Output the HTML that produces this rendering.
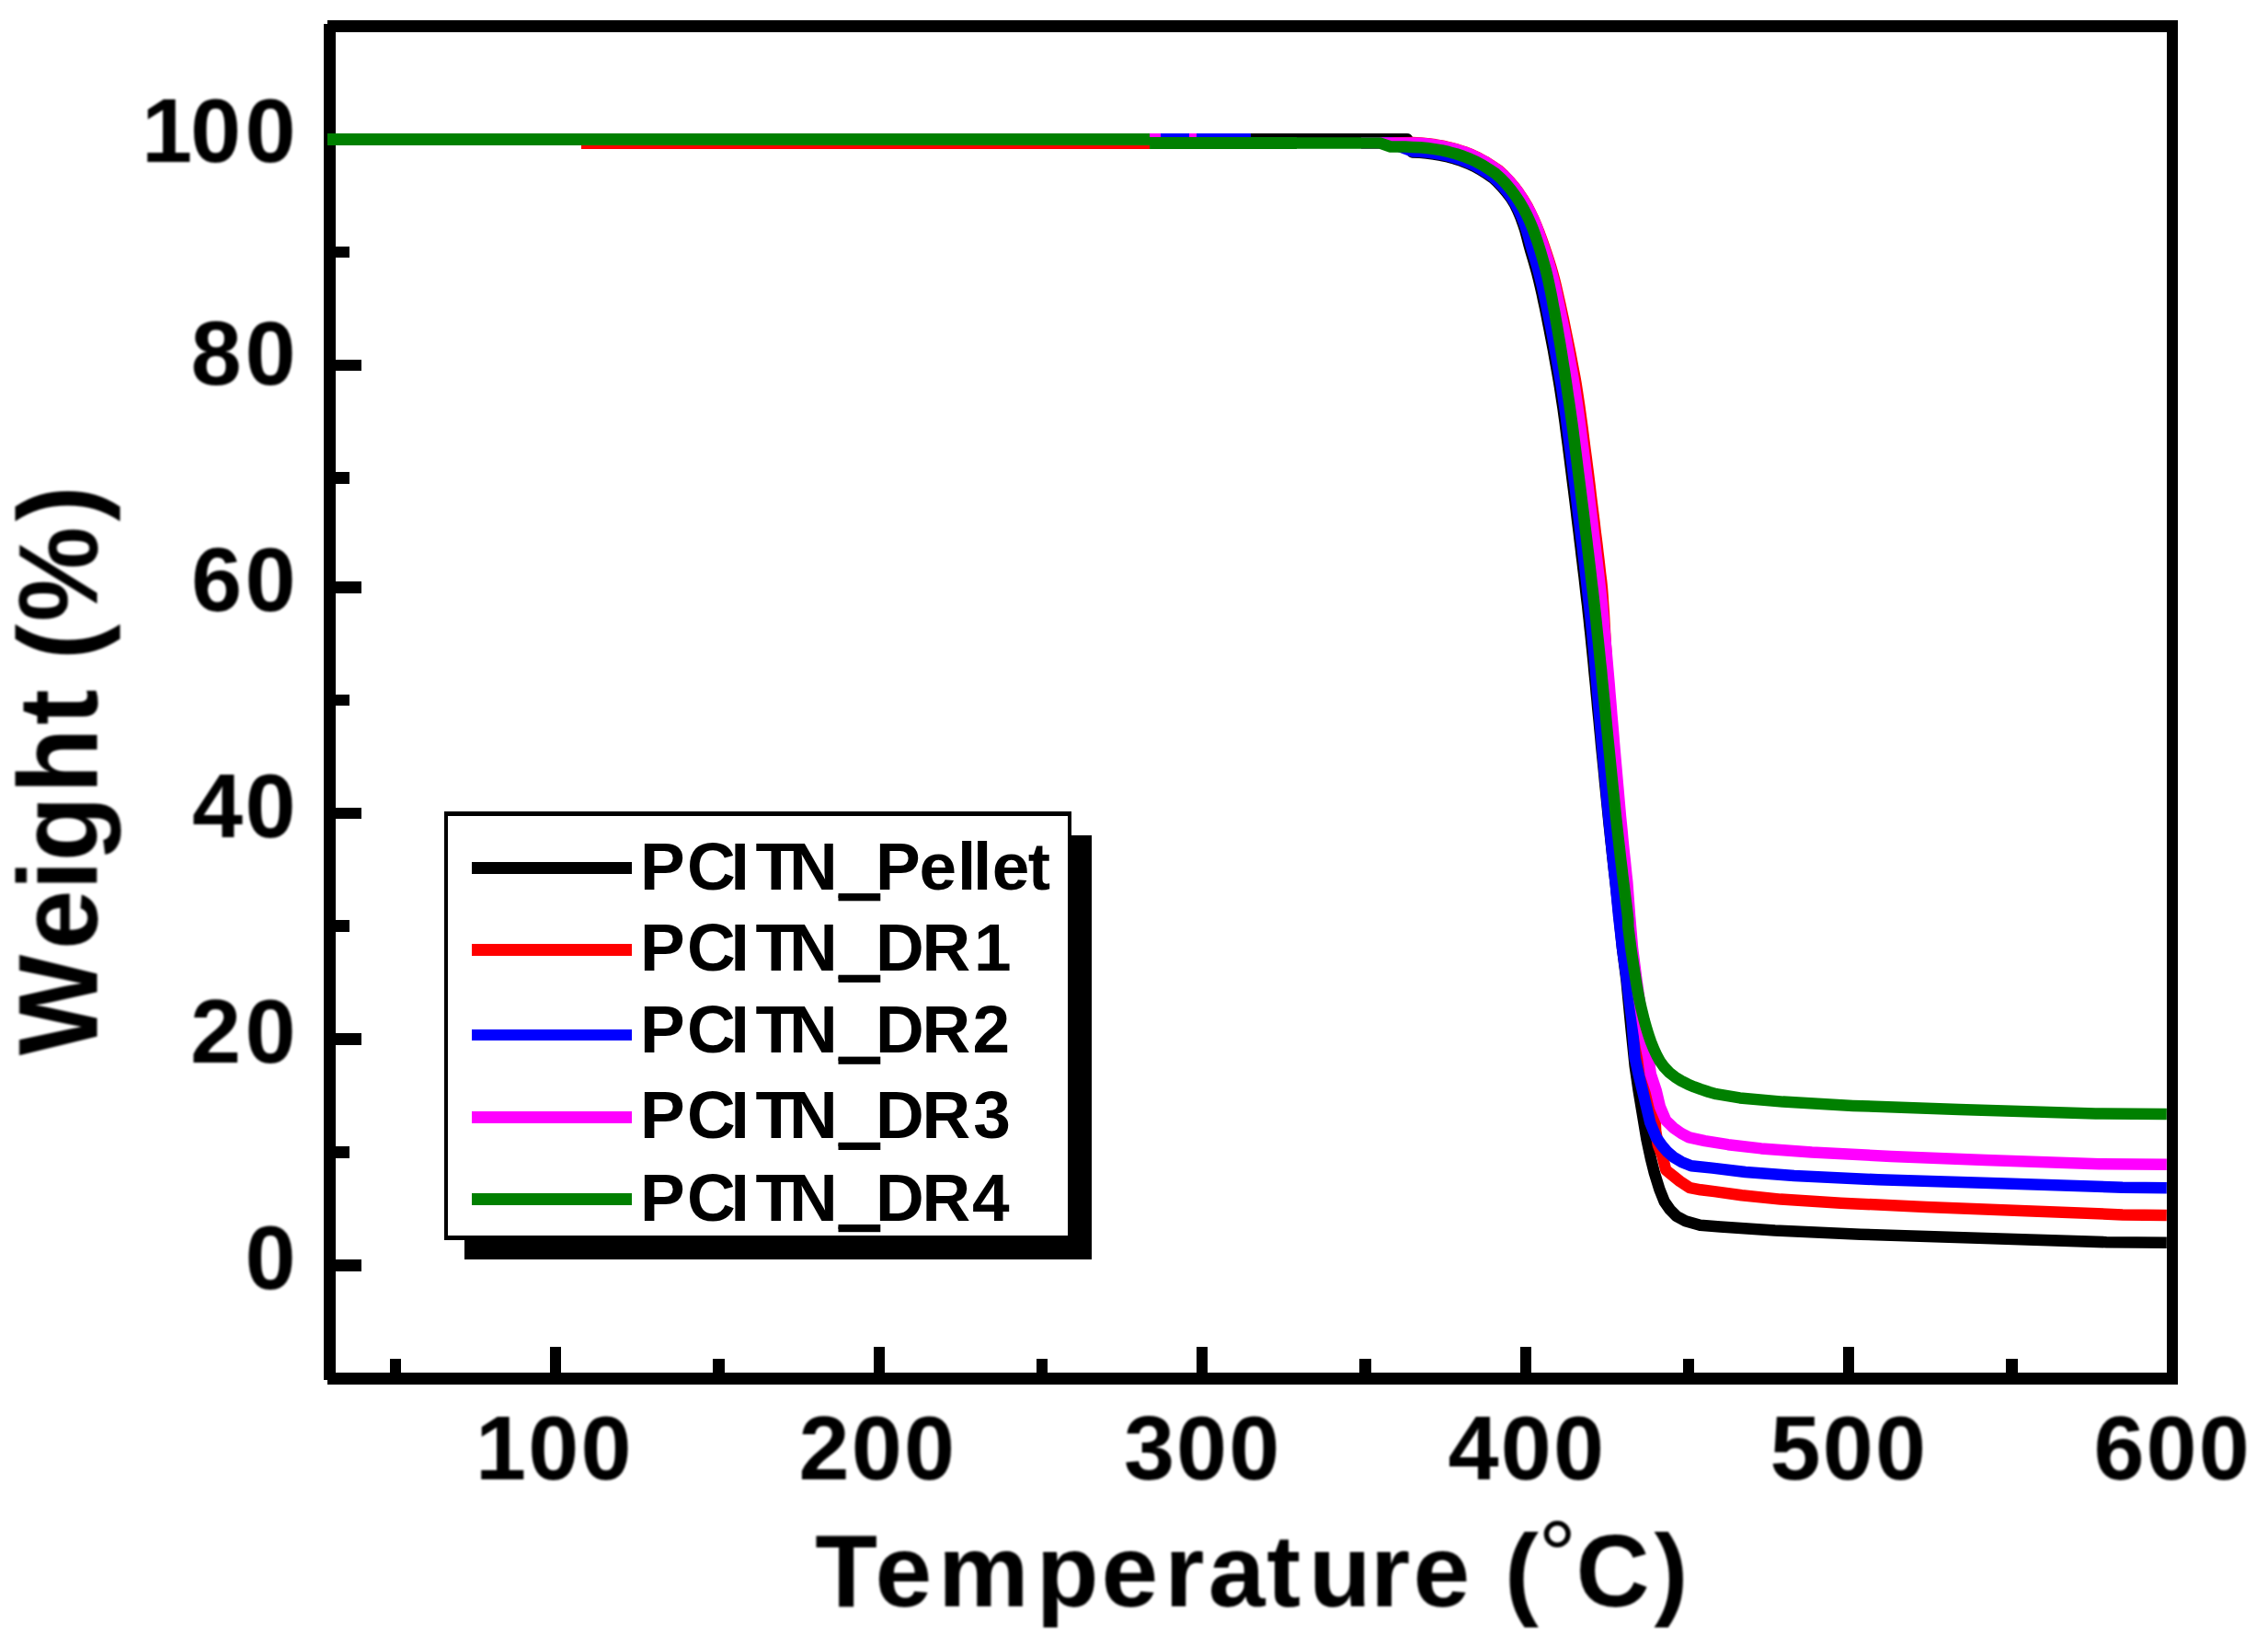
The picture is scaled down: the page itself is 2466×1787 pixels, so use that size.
<!DOCTYPE html>
<html lang="en"><head><meta charset="utf-8"><title>TGA curves</title>
<style>html,body{margin:0;padding:0;background:#fff}svg{display:block}</style></head><body>
<svg width="2466" height="1787" viewBox="0 0 2466 1787">
<defs><filter id="soft" x="-5%" y="-5%" width="110%" height="110%"><feGaussianBlur stdDeviation="1.2"/></filter></defs>
<rect x="0" y="0" width="2466" height="1787" fill="#fff"/>
<g id="frame" shape-rendering="crispEdges">
<rect x="356.0" y="22.0" width="2012.1" height="12.5" fill="#000"/>
<rect x="352.0" y="26.2" width="12.7" height="1474.1" fill="#000"/>
<rect x="356.0" y="1492.0" width="2012.1" height="12.5" fill="#000"/>
<rect x="2355.6" y="22.0" width="12.5" height="1482.5" fill="#000"/>
<rect x="364.0" y="144.5" width="28.5" height="12.6" fill="#000"/>
<rect x="364.0" y="390.7" width="28.5" height="12.6" fill="#000"/>
<rect x="364.0" y="631.9" width="28.5" height="12.6" fill="#000"/>
<rect x="364.0" y="877.7" width="28.5" height="12.6" fill="#000"/>
<rect x="364.0" y="1123.4" width="28.5" height="12.6" fill="#000"/>
<rect x="364.0" y="1369.2" width="28.5" height="12.6" fill="#000"/>
<rect x="364.0" y="267.7" width="16.0" height="12.6" fill="#000"/>
<rect x="364.0" y="513.1" width="16.0" height="12.6" fill="#000"/>
<rect x="364.0" y="754.5" width="16.0" height="12.6" fill="#000"/>
<rect x="364.0" y="1000.2" width="16.0" height="12.6" fill="#000"/>
<rect x="364.0" y="1246.3" width="16.0" height="12.6" fill="#000"/>
<rect x="597.9" y="1463.5" width="12.4" height="29.5" fill="#000"/>
<rect x="949.5" y="1463.5" width="12.4" height="29.5" fill="#000"/>
<rect x="1301.0" y="1463.5" width="12.4" height="29.5" fill="#000"/>
<rect x="1652.5" y="1463.5" width="12.4" height="29.5" fill="#000"/>
<rect x="2004.0" y="1463.5" width="12.4" height="29.5" fill="#000"/>
<rect x="2355.6" y="1463.5" width="12.4" height="29.5" fill="#000"/>
<rect x="423.7" y="1477.0" width="12.4" height="16.0" fill="#000"/>
<rect x="775.2" y="1477.0" width="12.4" height="16.0" fill="#000"/>
<rect x="1126.7" y="1477.0" width="12.4" height="16.0" fill="#000"/>
<rect x="1478.2" y="1477.0" width="12.4" height="16.0" fill="#000"/>
<rect x="1829.8" y="1477.0" width="12.4" height="16.0" fill="#000"/>
<rect x="2181.3" y="1477.0" width="12.4" height="16.0" fill="#000"/>
</g>
<polyline points="1350.0,151.2 1530.0,151.2 1535.7,165.4 1543.6,165.8 1551.3,166.5 1559.0,167.5 1566.6,168.8 1574.2,170.5 1581.6,172.5 1588.9,174.9 1596.0,177.6 1602.9,180.8 1609.6,184.4 1616.0,188.6 1622.9,193.2 1628.3,198.1 1633.5,203.6 1638.4,209.4 1643.0,215.5 1647.0,222.1 1650.4,229.0 1653.4,236.1 1656.0,243.3 1658.4,250.6 1660.4,258.0 1662.3,265.6 1664.4,273.1 1666.7,280.7 1668.9,288.2 1671.0,295.7 1672.9,303.3 1674.7,310.8 1676.5,318.5 1678.1,326.2 1679.8,334.0 1681.4,341.8 1682.9,349.6 1684.5,357.5 1686.0,365.3 1687.5,373.1 1689.0,380.9 1690.4,388.8 1691.8,396.6 1693.2,404.5 1694.6,412.4 1695.9,420.2 1697.1,428.1 1698.3,436.0 1699.5,443.9 1700.6,451.8 1701.7,459.7 1702.7,467.6 1703.7,475.5 1704.8,483.5 1705.8,491.4 1706.8,499.3 1707.8,507.2 1708.8,515.2 1709.8,523.1 1710.8,531.0 1711.8,539.0 1712.8,546.9 1713.8,554.9 1714.7,562.8 1715.7,570.7 1716.7,578.7 1717.6,586.6 1718.6,594.5 1719.5,602.5 1720.5,610.4 1721.4,618.4 1722.4,626.3 1723.3,634.2 1724.2,642.2 1725.1,650.1 1726.1,658.0 1726.9,666.0 1727.8,673.9 1728.6,681.9 1729.5,689.8 1730.3,697.8 1731.1,705.7 1731.9,713.7 1732.7,721.6 1733.4,729.6 1734.2,737.5 1735.0,745.5 1735.7,753.4 1736.5,761.4 1737.2,769.4 1738.0,777.3 1738.8,785.3 1739.5,793.3 1740.3,801.2 1741.0,809.2 1741.8,817.2 1742.6,825.1 1743.4,833.1 1744.2,841.1 1744.9,849.0 1745.7,857.0 1746.5,865.0 1747.3,872.9 1748.1,880.9 1748.9,888.9 1749.7,896.9 1750.6,904.8 1751.4,912.8 1752.3,920.8 1753.1,928.7 1754.0,936.7 1754.9,944.7 1755.8,952.6 1756.7,960.6 1760.5,995.3 1764.0,1030.5 1768.5,1065.8 1773.5,1118.0 1777.7,1158.8 1781.6,1185.3 1786.0,1211.7 1790.4,1238.2 1794.9,1259.3 1798.9,1275.2 1804.4,1292.9 1809.7,1306.1 1815.8,1314.9 1822.9,1322.0 1832.6,1327.2 1848.5,1331.7 1870.5,1333.4 1929.9,1337.5 2023.1,1341.7 2150.5,1345.8 2290.4,1350.2 2355.8,1350.7" fill="none" stroke="#000000" stroke-width="12.5" stroke-linejoin="round"/>
<g shape-rendering="crispEdges">
<rect x="631.6" y="149.2" width="618.4" height="12.5" fill="#ff0000"/>
<rect x="1262.4" y="145.0" width="97.6" height="12.5" fill="#0000ff"/>
<rect x="1250.0" y="145.0" width="12.4" height="12.5" fill="#ff00ff"/>
<rect x="1292.9" y="145.0" width="7.9" height="12.5" fill="#ff00ff"/>
<rect x="356.0" y="145.0" width="894.0" height="12.5" fill="#008000"/>
<rect x="1250.0" y="149.2" width="160.0" height="12.5" fill="#008000"/>
</g>
<polyline points="1480.0,155.4 1512.0,155.4 1536.2,155.1 1544.3,155.5 1552.4,156.2 1560.6,157.3 1568.6,158.7 1576.6,160.5 1584.5,162.6 1592.4,165.2 1600.1,168.1 1607.6,171.6 1614.8,175.6 1621.7,180.0 1629.2,185.0 1635.5,190.7 1641.2,196.7 1646.5,203.0 1651.4,209.6 1656.0,216.5 1660.2,223.5 1664.0,230.8 1667.5,238.2 1670.7,245.7 1673.7,253.3 1676.5,260.9 1679.2,268.6 1681.8,276.2 1684.3,283.9 1686.7,291.6 1688.9,299.5 1691.0,307.3 1692.8,315.2 1694.6,323.1 1696.4,330.9 1698.1,338.8 1699.8,346.6 1701.4,354.5 1703.0,362.4 1704.6,370.2 1706.2,378.1 1707.8,386.0 1709.3,393.9 1710.8,401.8 1712.3,409.7 1713.7,417.6 1714.9,425.5 1716.1,433.4 1717.3,441.4 1718.4,449.3 1719.5,457.3 1720.6,465.3 1721.6,473.2 1722.6,481.2 1723.6,489.1 1724.7,497.0 1725.7,505.0 1726.7,512.9 1727.7,520.9 1728.7,528.8 1729.6,536.8 1730.6,544.7 1731.6,552.7 1732.6,560.6 1733.6,568.5 1734.5,576.5 1735.5,584.4 1736.5,592.4 1737.4,600.3 1738.4,608.3 1739.3,616.2 1740.2,624.2 1741.2,632.1 1742.0,640.1 1742.6,648.1 1743.1,656.1 1743.7,664.1 1744.2,672.2 1744.6,680.2 1745.1,688.2 1745.5,696.2 1746.0,704.2 1746.5,712.2 1746.9,720.2 1747.3,728.2 1747.8,736.2 1748.2,744.2 1748.6,752.2 1749.0,760.2 1749.4,768.2 1749.8,776.2 1750.2,784.2 1750.6,792.2 1751.0,800.2 1751.4,808.2 1751.9,816.2 1752.4,824.1 1753.1,832.1 1753.8,840.1 1754.5,848.1 1755.2,856.0 1755.9,864.0 1756.6,872.0 1757.3,879.9 1758.1,887.9 1758.8,895.9 1759.6,903.8 1760.4,911.8 1761.2,919.7 1762.0,927.7 1762.8,935.7 1763.6,943.6 1764.5,951.6 1765.3,959.5 1768.0,995.3 1771.5,1030.5 1776.0,1065.8 1782.0,1118.0 1787.0,1160.0 1793.0,1190.0 1797.3,1206.0 1799.6,1217.0 1800.2,1229.4 1802.8,1244.4 1807.2,1255.8 1811.3,1271.7 1817.6,1276.9 1826.5,1284.0 1837.5,1291.2 1849.2,1293.3 1864.1,1295.1 1893.7,1299.2 1936.0,1303.6 2001.6,1307.7 2093.9,1311.9 2202.9,1316.2 2307.9,1320.4 2355.8,1320.9" fill="none" stroke="#ff0000" stroke-width="12.5" stroke-linejoin="round"/>
<polyline points="1480.0,155.4 1512.0,155.4 1535.7,164.4 1543.6,164.8 1551.4,165.5 1559.1,166.5 1566.8,167.9 1574.4,169.5 1581.9,171.5 1589.2,173.9 1596.4,176.7 1603.4,179.9 1610.1,183.6 1616.6,187.7 1623.5,192.4 1629.0,197.4 1634.3,202.9 1639.2,208.8 1643.8,215.0 1647.9,221.6 1651.4,228.4 1654.6,235.5 1657.4,242.7 1659.9,250.0 1662.1,257.4 1664.1,265.0 1666.3,272.5 1668.6,280.1 1670.8,287.7 1672.9,295.2 1674.8,302.8 1676.7,310.4 1678.4,318.1 1680.1,325.9 1681.7,333.7 1683.3,341.5 1684.9,349.3 1686.5,357.1 1688.0,364.9 1689.5,372.8 1690.9,380.6 1692.4,388.5 1693.8,396.3 1695.2,404.2 1696.5,412.1 1697.9,419.9 1699.1,427.8 1700.3,435.7 1701.4,443.6 1702.6,451.5 1703.6,459.4 1704.7,467.3 1705.7,475.3 1706.7,483.2 1707.8,491.1 1708.8,499.1 1709.8,507.0 1710.8,514.9 1711.8,522.9 1712.8,530.8 1713.8,538.7 1714.8,546.7 1715.7,554.6 1716.7,562.5 1717.7,570.5 1718.6,578.4 1719.6,586.4 1720.6,594.3 1721.5,602.2 1722.5,610.2 1723.4,618.1 1724.4,626.1 1725.3,634.0 1726.2,641.9 1727.1,649.9 1728.0,657.8 1728.9,665.8 1729.8,673.7 1730.6,681.6 1731.4,689.6 1732.1,697.6 1732.9,705.5 1733.6,713.5 1734.3,721.5 1735.0,729.4 1735.7,737.4 1736.4,745.3 1737.1,753.3 1737.8,761.3 1738.5,769.2 1739.2,777.2 1739.9,785.2 1740.6,793.2 1741.3,801.1 1742.0,809.1 1742.7,817.1 1743.4,825.1 1744.1,833.0 1744.8,841.0 1745.6,849.0 1746.3,856.9 1747.0,864.9 1747.7,872.9 1748.5,880.9 1749.2,888.8 1750.0,896.8 1750.8,904.8 1751.6,912.8 1752.4,920.7 1753.2,928.7 1754.1,936.7 1754.9,944.7 1755.8,952.6 1756.7,960.6 1760.0,995.3 1764.0,1030.5 1769.0,1065.8 1774.5,1110.0 1777.7,1150.0 1781.6,1167.6 1785.9,1185.3 1790.1,1202.9 1794.3,1220.5 1800.8,1236.4 1807.0,1245.2 1813.2,1252.3 1819.4,1257.6 1828.2,1262.9 1838.8,1267.3 1861.8,1269.6 1897.8,1274.0 1950.8,1278.0 2041.8,1282.3 2180.6,1286.5 2307.9,1290.7 2355.8,1291.2" fill="none" stroke="#0000ff" stroke-width="12.5" stroke-linejoin="round"/>
<polyline points="1480.0,155.4 1516.0,155.4 1536.2,155.4 1544.3,155.8 1552.4,156.5 1560.5,157.6 1568.6,159.0 1576.5,160.8 1584.5,162.9 1592.3,165.4 1599.9,168.4 1607.4,171.9 1614.7,175.8 1621.5,180.2 1629.0,185.3 1635.3,190.9 1641.0,196.9 1646.3,203.2 1651.2,209.8 1655.7,216.6 1659.9,223.7 1663.8,230.9 1667.2,238.3 1670.4,245.8 1673.2,253.5 1675.9,261.1 1678.5,268.8 1681.0,276.4 1683.5,284.1 1685.8,291.9 1687.9,299.7 1689.9,307.6 1691.7,315.4 1693.4,323.3 1695.1,331.2 1696.7,339.0 1698.3,346.9 1699.9,354.8 1701.5,362.6 1703.0,370.5 1704.5,378.4 1706.0,386.3 1707.4,394.2 1708.9,402.1 1710.3,410.0 1711.6,417.9 1712.8,425.8 1714.0,433.7 1715.2,441.7 1716.3,449.6 1717.4,457.6 1718.5,465.5 1719.5,473.5 1720.5,481.4 1721.6,489.4 1722.6,497.3 1723.6,505.3 1724.6,513.2 1725.6,521.1 1726.6,529.1 1727.6,537.0 1728.5,545.0 1729.5,552.9 1730.5,560.9 1731.5,568.8 1732.4,576.7 1733.4,584.7 1734.4,592.6 1735.3,600.6 1736.3,608.5 1737.2,616.5 1738.2,624.4 1739.1,632.4 1740.0,640.3 1740.9,648.3 1741.8,656.3 1742.5,664.3 1743.3,672.2 1744.0,680.2 1744.8,688.2 1745.5,696.2 1746.2,704.1 1746.9,712.1 1747.6,720.1 1748.3,728.1 1749.0,736.1 1749.7,744.0 1750.3,752.0 1751.0,760.0 1751.7,768.0 1752.3,775.9 1753.0,783.9 1753.7,791.9 1754.4,799.8 1755.0,807.8 1755.7,815.8 1756.4,823.7 1757.1,831.7 1757.8,839.7 1758.5,847.7 1759.2,855.6 1759.9,863.6 1760.6,871.6 1761.3,879.5 1762.0,887.5 1762.8,895.4 1763.6,903.4 1764.3,911.3 1765.1,919.3 1765.9,927.2 1766.8,935.2 1767.6,943.1 1768.4,951.1 1769.3,959.0 1772.0,995.3 1775.0,1030.5 1779.5,1065.8 1784.5,1101.0 1789.7,1136.4 1792.5,1150.0 1794.8,1167.6 1800.7,1185.3 1804.9,1202.9 1811.3,1217.9 1819.4,1225.8 1828.2,1232.0 1836.6,1236.4 1853.8,1240.1 1879.0,1244.2 1914.9,1248.4 1970.0,1252.6 2056.0,1256.9 2158.8,1261.1 2282.7,1265.3 2355.8,1265.8" fill="none" stroke="#ff00ff" stroke-width="12.5" stroke-linejoin="round"/>
<polyline points="1400.0,155.4 1500.0,155.4 1512.0,159.5 1520.0,159.5 1528.0,159.6 1536.0,159.9 1544.0,160.3 1551.9,161.0 1559.8,162.1 1567.7,163.4 1575.5,165.2 1583.2,167.2 1590.8,169.7 1598.2,172.6 1605.4,175.9 1612.4,179.7 1619.1,184.0 1626.2,188.8 1632.1,194.2 1637.6,199.9 1642.7,206.0 1647.5,212.4 1651.9,219.0 1656.0,225.9 1659.7,232.9 1663.1,240.1 1666.2,247.5 1669.0,255.0 1671.6,262.5 1674.0,270.2 1676.3,277.8 1678.5,285.5 1680.7,293.2 1682.6,301.0 1684.3,308.8 1685.9,316.6 1687.5,324.5 1688.9,332.3 1690.4,340.2 1691.8,348.1 1693.2,355.9 1694.5,363.8 1695.9,371.7 1697.2,379.6 1698.5,387.5 1699.7,395.4 1701.0,403.3 1702.2,411.2 1703.4,419.1 1704.5,427.0 1705.7,434.9 1706.9,442.9 1708.0,450.8 1709.1,458.7 1710.2,466.6 1711.2,474.6 1712.2,482.5 1713.2,490.4 1714.2,498.4 1715.2,506.3 1716.2,514.2 1717.2,522.2 1718.2,530.1 1719.2,538.1 1720.2,546.0 1721.2,553.9 1722.2,561.9 1723.1,569.8 1724.1,577.8 1725.1,585.7 1726.0,593.6 1727.0,601.6 1727.9,609.5 1728.9,617.5 1729.8,625.4 1730.7,633.4 1731.7,641.3 1732.6,649.3 1733.5,657.2 1734.4,665.2 1735.3,673.1 1736.1,681.1 1736.9,689.0 1737.8,697.0 1738.6,704.9 1739.4,712.9 1740.2,720.8 1741.1,728.8 1741.8,736.8 1742.6,744.7 1743.4,752.7 1744.2,760.7 1745.0,768.6 1745.8,776.6 1746.5,784.5 1747.3,792.5 1748.1,800.5 1748.9,808.4 1749.7,816.4 1750.5,824.3 1751.3,832.3 1752.1,840.3 1752.9,848.2 1753.7,856.2 1754.6,864.1 1755.4,872.1 1756.2,880.1 1757.0,888.0 1757.9,896.0 1758.8,903.9 1759.7,911.9 1760.6,919.8 1761.5,927.8 1762.4,935.7 1763.4,943.6 1764.3,951.6 1765.3,959.5 1766.3,967.5 1767.3,975.4 1768.3,983.3 1769.3,991.3 1770.2,999.2 1770.3,1007.2 1771.3,1015.1 1772.3,1023.0 1773.3,1031.0 1774.5,1038.9 1775.7,1046.8 1776.9,1054.7 1778.2,1062.6 1779.5,1070.5 1780.9,1078.4 1782.4,1086.2 1784.1,1094.0 1786.0,1101.8 1787.9,1109.5 1790.1,1117.3 1792.4,1124.9 1795.0,1132.4 1798.0,1139.8 1801.3,1147.0 1805.1,1153.9 1809.7,1160.2 1815.1,1165.8 1821.3,1170.7 1828.0,1174.9 1835.0,1178.4 1842.1,1181.4 1848.9,1183.9 1855.2,1186.0 1858.2,1187.0 1866.1,1189.2 1891.7,1193.4 1938.5,1197.6 2014.6,1201.9 2129.9,1206.1 2278.4,1210.4 2355.8,1210.9" fill="none" stroke="#008000" stroke-width="12.5" stroke-linejoin="round"/>
<g id="legend" shape-rendering="crispEdges">
<rect x="504.6" y="907.6" width="681.9" height="461.1" fill="#000"/>
<rect x="482.8" y="881.8" width="682.6" height="465.8" fill="#000"/>
<rect x="487.4" y="886.6" width="673.6" height="456.7" fill="#fff"/>
<rect x="512.9" y="937.1" width="174.0" height="12.6" fill="#000000"/>
<rect x="512.9" y="1025.9" width="174.0" height="12.6" fill="#ff0000"/>
<rect x="512.9" y="1118.7" width="174.0" height="12.6" fill="#0000ff"/>
<rect x="512.9" y="1208.4" width="174.0" height="12.6" fill="#ff00ff"/>
<rect x="512.9" y="1297.2" width="174.0" height="12.6" fill="#008000"/>
</g>
<text x="696.1 747.1 794.6 821.4 858.1 912.2 952.1 999.4 1040.9 1057.9 1078.8 1117.8" y="966.7" font-size="73" font-family="Liberation Sans, Arial, Helvetica, sans-serif" font-weight="bold" fill="#000">PCITN_Pellet</text>
<rect x="911.5" y="971.1" width="45.8" height="8.2" fill="#000"/>
<text x="696.1 747.1 794.6 821.4 858.1 912.2 952.1 1002.6 1059.0" y="1055.3" font-size="73" font-family="Liberation Sans, Arial, Helvetica, sans-serif" font-weight="bold" fill="#000">PCITN_DR1</text>
<rect x="911.5" y="1059.7" width="45.8" height="8.2" fill="#000"/>
<text x="696.1 747.1 794.6 821.4 858.1 912.2 952.1 1002.6 1057.5" y="1144.2" font-size="73" font-family="Liberation Sans, Arial, Helvetica, sans-serif" font-weight="bold" fill="#000">PCITN_DR2</text>
<rect x="911.5" y="1148.6" width="45.8" height="8.2" fill="#000"/>
<text x="696.1 747.1 794.6 821.4 858.1 912.2 952.1 1002.6 1058.3" y="1237.4" font-size="73" font-family="Liberation Sans, Arial, Helvetica, sans-serif" font-weight="bold" fill="#000">PCITN_DR3</text>
<rect x="911.5" y="1241.8" width="45.8" height="8.2" fill="#000"/>
<text x="696.1 747.1 794.6 821.4 858.1 912.2 952.1 1002.6 1056.9" y="1326.6" font-size="73" font-family="Liberation Sans, Arial, Helvetica, sans-serif" font-weight="bold" fill="#000">PCITN_DR4</text>
<rect x="911.5" y="1331.0" width="45.8" height="8.2" fill="#000"/>
<g id="labels" filter="url(#soft)">
<text x="154.0 206.9 266.6" y="176.2" font-size="99" font-family="Liberation Sans, Arial, Helvetica, sans-serif" font-weight="bold" fill="#000">100</text>
<text x="207.5 266.6" y="417.8" font-size="99" font-family="Liberation Sans, Arial, Helvetica, sans-serif" font-weight="bold" fill="#000">80</text>
<text x="208.0 266.6" y="663.8" font-size="99" font-family="Liberation Sans, Arial, Helvetica, sans-serif" font-weight="bold" fill="#000">60</text>
<text x="208.9 266.6" y="909.6" font-size="99" font-family="Liberation Sans, Arial, Helvetica, sans-serif" font-weight="bold" fill="#000">40</text>
<text x="207.0 266.6" y="1155.4" font-size="99" font-family="Liberation Sans, Arial, Helvetica, sans-serif" font-weight="bold" fill="#000">20</text>
<text x="266.6" y="1401.0" font-size="99" font-family="Liberation Sans, Arial, Helvetica, sans-serif" font-weight="bold" fill="#000">0</text>
<text x="517.0 574.2 631.4" y="1608.2" font-size="99" font-family="Liberation Sans, Arial, Helvetica, sans-serif" font-weight="bold" fill="#000">100</text>
<text x="868.5 925.7 982.9" y="1608.2" font-size="99" font-family="Liberation Sans, Arial, Helvetica, sans-serif" font-weight="bold" fill="#000">200</text>
<text x="1221.9 1279.1 1336.3" y="1608.2" font-size="99" font-family="Liberation Sans, Arial, Helvetica, sans-serif" font-weight="bold" fill="#000">300</text>
<text x="1574.5 1631.7 1688.9" y="1608.2" font-size="99" font-family="Liberation Sans, Arial, Helvetica, sans-serif" font-weight="bold" fill="#000">400</text>
<text x="1924.6 1981.8 2039.0" y="1608.2" font-size="99" font-family="Liberation Sans, Arial, Helvetica, sans-serif" font-weight="bold" fill="#000">500</text>
<text x="2276.4 2333.6 2390.8" y="1608.2" font-size="99" font-family="Liberation Sans, Arial, Helvetica, sans-serif" font-weight="bold" fill="#000">600</text>
<text x="886.2 951.5 1020.0 1126.7 1197.6 1266.2 1313.7 1377.3 1422.9 1490.0 1536.6 1598.3 1636.0 1672.5 1713.6 1798.5" y="1746.0" font-size="111" font-family="Liberation Sans, Arial, Helvetica, sans-serif" font-weight="bold" fill="#000">Temperature (<tspan font-weight="normal" font-size="104" dy="-20.4">°</tspan><tspan dy="20.4">C)</tspan></text>
<text transform="translate(106,0) rotate(-90) scale(1,1.06)" x="-1147.3 -1032.0 -967.6 -936.3 -862.6 -788.0 -749.4 -716.9 -675.7 -566.7" y="0" font-size="116" font-family="Liberation Sans, Arial, Helvetica, sans-serif" font-weight="bold" fill="#000">Weight (%)</text>
</g>
</svg></body></html>
